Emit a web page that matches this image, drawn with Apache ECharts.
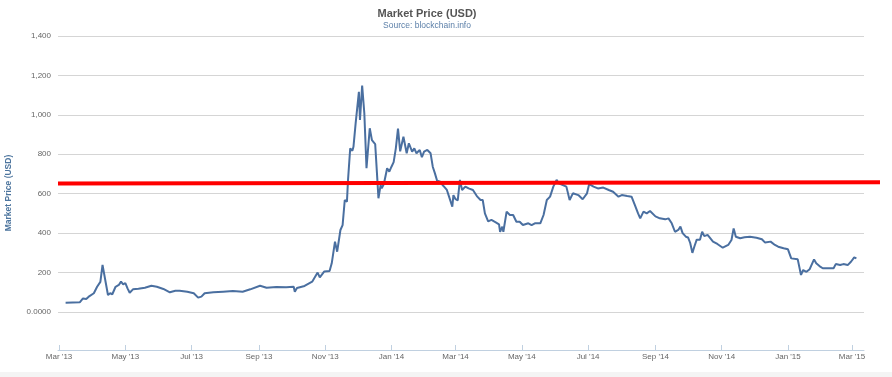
<!DOCTYPE html>
<html>
<head>
<meta charset="utf-8">
<script src="https://cdn.jsdelivr.net/npm/echarts@6/dist/echarts.min.js"></script>
<style>html,body{margin:0;padding:0;background:#fff}#chart{width:892px;height:377px}</style>
</head>
<body>
<div id="chart"></div>
<script>
var dates = ['2013-03-07','2013-03-20','2013-03-23','2013-03-26','2013-03-29','2013-04-02','2013-04-05','2013-04-08','2013-04-10','2013-04-13','2013-04-15','2013-04-17','2013-04-19','2013-04-22','2013-04-25','2013-04-27','2013-04-29','2013-05-01','2013-05-03','2013-05-05','2013-05-08','2013-05-13','2013-05-19','2013-05-25','2013-05-30','2013-06-05','2013-06-11','2013-06-16','2013-06-20','2013-06-27','2013-07-03','2013-07-07','2013-07-10','2013-07-13','2013-07-21','2013-07-30','2013-08-08','2013-08-17','2013-08-24','2013-09-02','2013-09-08','2013-09-17','2013-09-26','2013-10-03','2013-10-04','2013-10-06','2013-10-13','2013-10-20','2013-10-25','2013-10-27','2013-10-31','2013-11-05','2013-11-07','2013-11-10','2013-11-12','2013-11-15','2013-11-17','2013-11-19','2013-11-21','2013-11-22','2013-11-24','2013-11-26','2013-11-27','2013-11-29','2013-12-02','2013-12-03','2013-12-05','2013-12-07','2013-12-09','2013-12-10','2013-12-12','2013-12-14','2013-12-15','2013-12-17','2013-12-19','2013-12-20','2013-12-22','2013-12-23','2013-12-25','2013-12-28','2013-12-30','2014-01-01','2014-01-03','2014-01-05','2014-01-07','2014-01-09','2014-01-12','2014-01-15','2014-01-17','2014-01-20','2014-01-22','2014-01-24','2014-01-27','2014-01-29','2014-01-31','2014-02-03','2014-02-06','2014-02-08','2014-02-10','2014-02-12','2014-02-15','2014-02-17','2014-02-19','2014-02-21','2014-02-23','2014-02-26','2014-02-27','2014-03-01','2014-03-03','2014-03-05','2014-03-07','2014-03-10','2014-03-13','2014-03-17','2014-03-21','2014-03-24','2014-03-26','2014-03-28','2014-03-31','2014-04-03','2014-04-07','2014-04-10','2014-04-11','2014-04-13','2014-04-14','2014-04-17','2014-04-20','2014-04-23','2014-04-26','2014-04-29','2014-05-02','2014-05-07','2014-05-10','2014-05-13','2014-05-18','2014-05-21','2014-05-24','2014-05-27','2014-05-30','2014-06-02','2014-06-04','2014-06-11','2014-06-14','2014-06-17','2014-06-22','2014-06-26','2014-06-30','2014-07-02','2014-07-06','2014-07-10','2014-07-15','2014-07-20','2014-07-24','2014-07-29','2014-08-01','2014-08-06','2014-08-10','2014-08-13','2014-08-16','2014-08-18','2014-08-21','2014-08-24','2014-08-27','2014-09-01','2014-09-05','2014-09-10','2014-09-13','2014-09-16','2014-09-19','2014-09-22','2014-09-24','2014-09-26','2014-09-29','2014-10-01','2014-10-03','2014-10-05','2014-10-07','2014-10-09','2014-10-12','2014-10-14','2014-10-16','2014-10-19','2014-10-24','2014-10-28','2014-11-02','2014-11-07','2014-11-10','2014-11-12','2014-11-14','2014-11-18','2014-11-22','2014-11-27','2014-12-03','2014-12-08','2014-12-11','2014-12-16','2014-12-20','2014-12-23','2014-12-28','2015-01-01','2015-01-04','2015-01-10','2015-01-13','2015-01-15','2015-01-18','2015-01-21','2015-01-25','2015-01-27','2015-01-30','2015-02-02','2015-02-07','2015-02-12','2015-02-14','2015-02-18','2015-02-21','2015-02-25','2015-02-28','2015-03-03','2015-03-05'];
var prices = [47,49,69,66,81,95,128,153,239,147,86,95,90,128,137,154,140,147,120,98,115,118,123,133,128,117,100,108,108,103,95,73,78,95,100,103,106,103,115,133,123,127,125,128,103,122,132,154,200,176,205,208,247,357,306,416,441,568,560,670,830,818,838,957,1117,974,1148,1008,729,720,932,872,880,852,670,577,644,627,649,729,712,737,760,830,930,815,889,805,856,813,830,805,822,785,813,822,805,737,703,666,661,644,632,619,585,534,593,572,566,670,619,636,627,619,585,568,568,500,460,467,455,445,407,433,407,509,492,492,458,458,441,450,441,450,450,492,568,585,636,670,653,636,568,602,593,572,602,649,636,627,631,619,610,585,593,588,585,543,500,475,509,500,512,485,475,470,475,450,407,416,433,400,382,378,350,300,335,367,367,407,385,391,357,345,326,340,365,424,382,374,379,382,377,369,352,357,340,331,323,318,272,267,188,213,204,217,267,247,233,222,222,222,243,238,243,238,255,277,272];

var refLineDates = ['2013-02-28','2015-03-26'];
var refLineValues = [652,658];

var tickDates = ['2013-03-01','2013-05-01','2013-07-01','2013-09-01','2013-11-01','2014-01-01','2014-03-01','2014-05-01','2014-07-01','2014-09-01','2014-11-01','2015-01-01','2015-03-01'];
var tickLabels = ["Mar '13","May '13","Jul '13","Sep '13","Nov '13","Jan '14","Mar '14","May '14","Jul '14","Sep '14","Nov '14","Jan '15","Mar '15"];
var xMin = '2013-02-28', xMax = '2015-03-12';

var yTicks = [0,200,400,600,800,1000,1200,1400];

var FONT = 'Arial, "Liberation Sans", sans-serif';
var tickTs = tickDates.map(function(d){return Date.parse(d);});
var labelMap = {};
tickTs.forEach(function(t,i){labelMap[t]=tickLabels[i];});

var chart = echarts.init(document.getElementById('chart'));
chart.setOption({
  animation: false,
  textStyle: {fontFamily: FONT},
  title: [
    {text: 'Market Price (USD)', left: 422, top: 3, textAlign: 'center',
     textStyle: {fontSize: 11, fontWeight: 'bold', color: '#555', fontFamily: FONT}},
    {text: 'Source: blockchain.info', left: 422, top: 16, textAlign: 'center',
     textStyle: {fontSize: 8.5, fontWeight: 'normal', color: '#5b7fa8', fontFamily: FONT}}
  ],
  grid: [
    {left: 58, right: 28, top: 36, bottom: 65, containLabel: false, outerBoundsMode: 'none'},
    {left: 58, right: 12, top: 36, bottom: 65, containLabel: false, outerBoundsMode: 'none'}
  ],
  xAxis: [{
    type: 'value', gridIndex: 0,
    min: Date.parse(xMin), max: Date.parse(xMax),
    offset: 38,
    axisLine: {show: true, onZero: false, lineStyle: {color: '#C0D0E0', width: 1}},
    axisTick: {show: true, inside: true, customValues: tickTs, length: 5, lineStyle: {color: '#C0D0E0'}},
    axisLabel: {customValues: tickTs, fontSize: 8, color: '#666', margin: 3, fontFamily: FONT,
      formatter: function(v){ return labelMap[v] || ''; }},
    splitLine: {show: false}
  }, {
    type: 'value', gridIndex: 1, show: false,
    min: Date.parse(refLineDates[0]), max: Date.parse(refLineDates[refLineDates.length-1])
  }],
  yAxis: [{
    type: 'value', gridIndex: 0, min: yTicks[0], max: yTicks[yTicks.length-1], interval: 200,
    name: 'Market Price (USD)', nameLocation: 'middle', nameGap: 45, nameRotate: 90,
    nameTextStyle: {fontSize: 8.5, fontWeight: 'bold', color: '#4d759e', fontFamily: FONT, padding: [0, 38, 0, 0]},
    axisLine: {show: false}, axisTick: {show: false},
    axisLabel: {fontSize: 8, color: '#666', margin: 7, fontFamily: FONT,
      formatter: function(v){ return v === 0 ? '0.0000' : v.toLocaleString('en-US'); }},
    splitLine: {lineStyle: {color: '#d5d5d5', width: 1}}
  }, {
    type: 'value', gridIndex: 1, show: false, min: yTicks[0], max: yTicks[yTicks.length-1],
    splitLine: {show: false}
  }],
  graphic: [{type: 'rect', left: 0, bottom: 0, shape: {width: 892, height: 5}, style: {fill: '#f4f4f4'}}],
  series: [
    {type: 'line', name: 'Market Price', xAxisIndex: 0, yAxisIndex: 0, showSymbol: false, symbol: 'none',
     lineStyle: {color: '#4a6fa0', width: 2}, itemStyle: {color: '#4a6fa0'},
     data: dates.map(function(d,i){return [Date.parse(d), prices[i]];}), z: 2},
    {type: 'line', name: 'ref', xAxisIndex: 1, yAxisIndex: 1, showSymbol: false, symbol: 'none',
     lineStyle: {color: '#ff0000', width: 4}, itemStyle: {color: '#ff0000'},
     data: refLineDates.map(function(d,i){return [Date.parse(d), refLineValues[i]];}), z: 3}
  ]
});
</script>
</body>
</html>
